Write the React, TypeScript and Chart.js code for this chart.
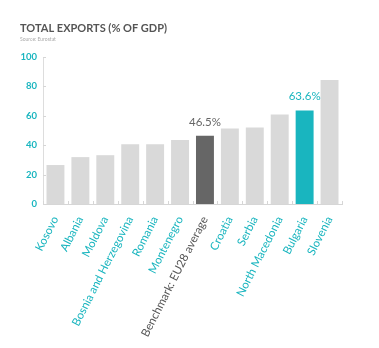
import React, { useEffect, useRef } from "react";
import { Chart, registerables } from "chart.js";

Chart.register(...registerables);

const categories = [
  "Kosovo",
  "Albania",
  "Moldova",
  "Bosnia and Herzegovina",
  "Romania",
  "Montenegro",
  "Benchmark: EU28 average",
  "Croatia",
  "Serbia",
  "North Macedonia",
  "Bulgaria",
  "Slovenia",
];
const exportsPct = [26.5, 31.9, 33.2, 40.6, 40.6, 43.5, 46.5, 51.4, 52.1, 60.8, 63.6, 84.4];
const valueLabels = ["", "", "", "", "", "", "46.5%", "", "", "", "63.6%", ""];
const yTicks = [0, 20, 40, 60, 80, 100];

const TEAL = "#19b5bf";
const GREY = "#d9d9d9";
const DARK = "#666666";
const BENCH = 6;
const HIGHLIGHT = 10;

const barColors = categories.map((_, i) => (i === BENCH ? DARK : i === HIGHLIGHT ? TEAL : GREY));
const labelColors = categories.map((_, i) => (i === BENCH ? "#555555" : TEAL));
const valueLabelColors = categories.map((_, i) => (i === BENCH ? "#666666" : TEAL));

const valueLabelPlugin = {
  id: "valueLabels",
  afterDatasetsDraw(chart: any) {
    const ctx = chart.ctx;
    const meta = chart.getDatasetMeta(0);
    ctx.save();
    ctx.font = "11.5px Lato";
    ctx.textAlign = "center";
    ctx.textBaseline = "bottom";
    meta.data.forEach((bar: any, i: number) => {
      const t = valueLabels[i];
      if (!t) return;
      ctx.fillStyle = valueLabelColors[i];
      ctx.fillText(t, bar.x, bar.y - 8);
    });
    ctx.restore();
  },
};

const innerTicksPlugin = {
  id: "innerTicks",
  afterDraw(chart: any) {
    const ctx = chart.ctx;
    const xs = chart.scales.x;
    const ys = chart.scales.y;
    const area = chart.chartArea;
    ctx.save();
    ctx.strokeStyle = "#d6d6d6";
    ctx.lineWidth = 1;
    ctx.beginPath();
    yTicks.forEach((v) => {
      const y = Math.round(ys.getPixelForValue(v)) + 0.5;
      ctx.moveTo(area.left, y);
      ctx.lineTo(area.left + 3, y);
    });
    const n = categories.length;
    for (let i = 0; i <= n; i++) {
      const x = Math.round(xs.getPixelForValue(i - 0.5)) + 0.5;
      ctx.moveTo(x, area.bottom);
      ctx.lineTo(x, area.bottom - 3);
    }
    ctx.stroke();
    ctx.restore();
  },
};

export default function App() {
  const ref = useRef<HTMLCanvasElement>(null);
  useEffect(() => {
    if (!ref.current) return;
    const chart = new Chart(ref.current, {
      type: "bar",
      data: {
        labels: categories,
        datasets: [
          {
            data: exportsPct,
            backgroundColor: barColors,
            borderWidth: 0,
            categoryPercentage: 1,
            barPercentage: 0.72,
          },
        ],
      },
      plugins: [valueLabelPlugin, innerTicksPlugin],
      options: {
        animation: false,
        responsive: false,
        maintainAspectRatio: false,
        layout: { padding: { left: 20, right: 37, top: 0, bottom: 0 } },
        plugins: {
          legend: { display: false },
          tooltip: { enabled: false },
          title: {
            display: true,
            text: "TOTAL EXPORTS (% OF GDP)",
            align: "start",
            color: "#555555",
            font: { family: "Lato", size: 11, weight: "bold" },
            padding: { top: 22, bottom: 1 },
          },
          subtitle: {
            display: true,
            text: "Source: Eurostat",
            align: "start",
            color: "#aaaaaa",
            font: { family: "Lato", size: 5 },
            padding: { top: 0, bottom: 14.8 },
          },
        },
        scales: {
          x: {
            grid: { display: false },
            border: { display: true, color: "#d6d6d6" },
            ticks: {
              autoSkip: false,
              minRotation: 63,
              maxRotation: 63,
              color: (c: any) => labelColors[c.index],
              font: { family: "Lato", size: 11.5 },
              padding: 2,
            },
            afterFit: (s: any) => {
              s.height = 144;
            },
          },
          y: {
            min: 0,
            max: 100,
            afterBuildTicks: (s: any) => {
              s.ticks = yTicks.map((v) => ({ value: v }));
            },
            grid: { display: false, drawTicks: false },
            border: { display: true, color: "#dddddd" },
            ticks: {
              color: TEAL,
              font: { family: "Lato", size: 9.5, weight: "bold" },
              padding: 6,
            },
            afterFit: (s: any) => {
              s.width = 23;
            },
          },
        },
      },
    });
    return () => chart.destroy();
  }, []);
  return (
    <div style={{ position: "absolute", left: 0, top: 0, width: 379, height: 348, background: "#fff" }}>
      <canvas ref={ref} width={379} height={348} style={{ width: 379, height: 348 }} />
    </div>
  );
}
